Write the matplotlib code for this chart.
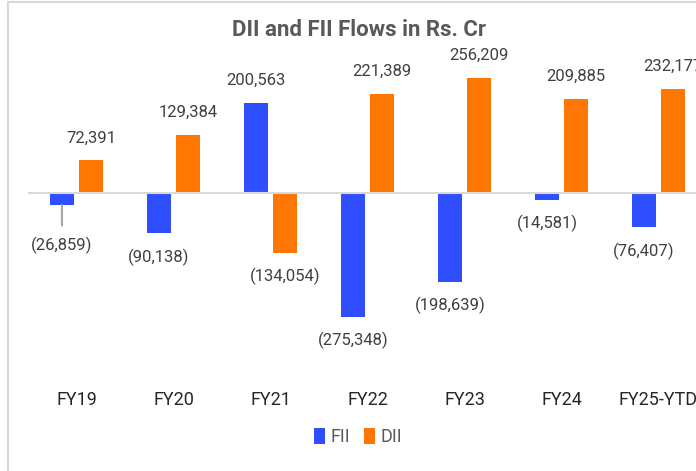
import matplotlib
matplotlib.use("Agg")
import matplotlib.pyplot as plt
from matplotlib.patches import Rectangle
from matplotlib.transforms import blended_transform_factory
import numpy as np

plt.rcParams['font.family'] = ['Roboto', 'DejaVu Sans']

# data (Rs. Cr)
years = ["FY19", "FY20", "FY21", "FY22", "FY23", "FY24", "FY25-YTD"]
fii = [-26859, -90138, 200563, -275348, -198639, -14581, -76407]
dii = [72391, 129384, -134054, 221389, 256209, 209885, 232177]

blue = "#2f4ffe"
orange = "#ff7600"
txt = "#404040"

W, H = 696, 471
fig = plt.figure(figsize=(W / 100, H / 100), dpi=100)

# outer chart frame (cropped on the right/bottom)
fig.patches.append(Rectangle((8 / W, -0.1), 1.2, 1 - 2 / H + 0.1, transform=fig.transFigure,
                             fill=False, edgecolor="#d9d9d9", lw=1.5))

# axes: x -0.5 at 28px, 97px per category; zero at y=193px
ax = fig.add_axes([28 / W, (H - 327.7) / H, 679 / W, 269.4 / H])
ax.set_xlim(-0.5, 6.5)
ax.set_ylim(-300000, 300000)
ax.axis("off")

x = np.arange(len(years))
w = 0.24
off = 0.15
ax.bar(x - off, fii, w, color=blue, label="FII", zorder=2)
ax.bar(x + off, dii, w, color=orange, label="DII", zorder=2)
ax.axhline(0, color="#d9d9d9", lw=1.5, zorder=3)


def fmt(v):
    s = f"{abs(v):,}"
    return s if v >= 0 else f"({s})"


for xs, vals in ((x - off, fii), (x + off, dii)):
    for xi, v in zip(xs, vals):
        dy = 16 if v >= 0 else -17
        ax.annotate(fmt(v), (xi, v), xytext=(0, dy), textcoords="offset points",
                    ha="center", va="center", fontsize=12, color=txt)

# FY19 FII label pushed down with leader line
ax.texts[0].remove()
ax.annotate(fmt(fii[0]), (x[0] - off, fii[0]), xytext=(0, -29), textcoords="offset points",
            ha="center", va="center", fontsize=12, color=txt,
            arrowprops=dict(arrowstyle="-", color="#a6a6a6", lw=1.5, shrinkA=6, shrinkB=0))

# category labels
tr = blended_transform_factory(ax.transData, fig.transFigure)
for xi, lab in zip(x, years):
    ax.text(xi, 1 - 400 / H, lab, transform=tr, ha="center", va="center",
            fontsize=13, color="#262626")

fig.text(359 / W, 1 - 30 / H, "DII and FII Flows in Rs. Cr", ha="center", va="center",
         fontsize=16, fontweight="bold", color="#595959")

fig.legend(loc="center", bbox_to_anchor=(358 / W, 1 - 437 / H), ncol=2, frameon=False,
           handlelength=0.6, handleheight=1.0, handletextpad=0.3, columnspacing=0.8,
           fontsize=13, labelcolor="#595959")

fig.savefig("out.png", dpi=100)
